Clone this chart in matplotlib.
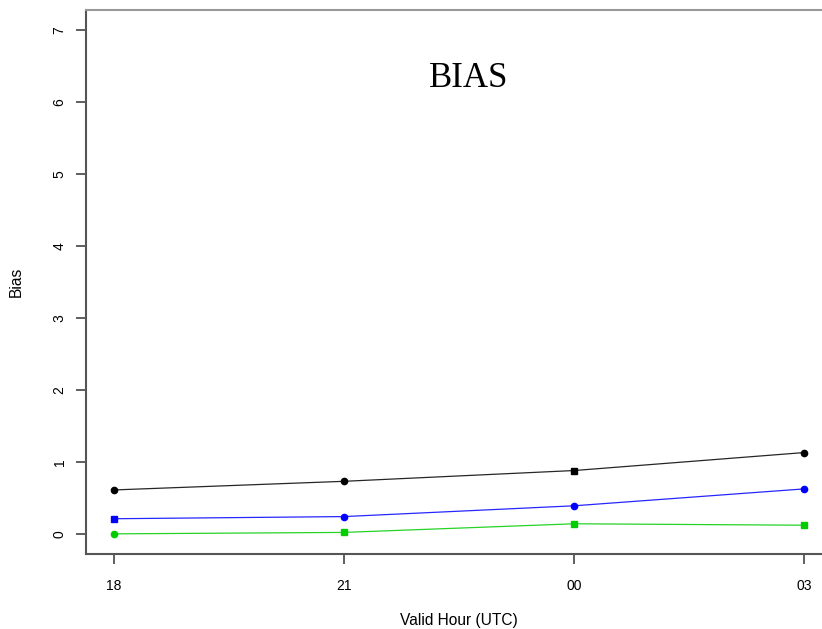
import matplotlib
matplotlib.use("Agg")
import matplotlib.pyplot as plt

hours = ["18", "21", "00", "03"]
black_vals = [0.61, 0.73, 0.88, 1.13]
blue_vals = [0.21, 0.24, 0.39, 0.625]
green_vals = [0.00, 0.02, 0.14, 0.12]
black_marks = ["o", "o", "s", "o"]
blue_marks = ["s", "o", "o", "o"]
green_marks = ["o", "s", "s", "s"]
yticks = [0, 1, 2, 3, 4, 5, 6, 7]

W, H = 822, 629
fig = plt.figure(figsize=(W / 100, H / 100), dpi=100)
left, right, top, bottom = 86, 832, 10, 554
ax = fig.add_axes([left / W, (H - bottom) / H, (right - left) / W, (bottom - top) / H])

x = list(range(len(hours)))
for vals, col, marks in [(black_vals, "black", black_marks),
                         (blue_vals, "#0000ff", blue_marks),
                         (green_vals, "#00cc00", green_marks)]:
    ax.plot(x, vals, color=col, lw=0.9, alpha=0.85, zorder=2)
    for xi, yi, m in zip(x, vals, marks):
        ax.plot([xi], [yi], marker=m, color=col, markersize=4.5 if m == "o" else 4,
                linestyle="none", zorder=3)

ax.set_xlim(-0.12, 3.12)
ax.set_ylim(-0.28, 7.28)
ax.set_xticks(x)
ax.set_xticklabels(hours, family="Liberation Sans", fontsize=10)
ax.set_yticks(yticks)
ax.set_yticklabels([str(v) for v in yticks], family="Liberation Sans", fontsize=10,
                   rotation=90, va="center")
ax.tick_params(axis="x", direction="out", length=7, width=1.2, color="#444444", pad=11)
ax.tick_params(axis="y", direction="out", length=7, width=1.2, color="#444444", pad=7)
for s in ["left", "bottom"]:
    ax.spines[s].set_color("#555555")
    ax.spines[s].set_linewidth(1.5)
ax.spines["top"].set_color("#999999")
ax.spines["top"].set_linewidth(1.5)
ax.spines["right"].set_color("#999999")

ax.set_xlabel("Valid Hour (UTC)", family="Liberation Sans", fontsize=11.2, labelpad=14.5)
ax.set_ylabel("Bias", family="Liberation Sans", fontsize=11.2, labelpad=21)
ax.text(1.54, 6.33, "BIAS", family="Liberation Serif", fontsize=25,
        ha="center", va="center")

fig.savefig("out.png", dpi=100)
